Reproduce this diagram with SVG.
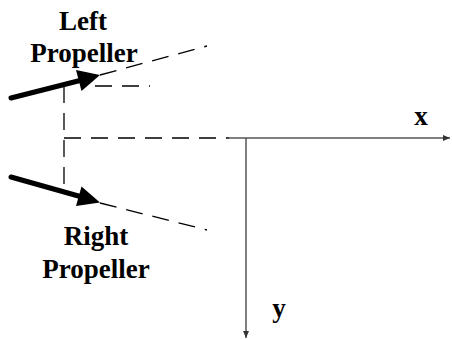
<svg xmlns="http://www.w3.org/2000/svg" width="452" height="340" viewBox="0 0 452 340">
<style>
.lbl{font-family:"Liberation Serif","Times New Roman",serif;font-weight:bold;font-size:27px;fill:#000}
.dash{stroke:#000;stroke-width:1.3;stroke-dasharray:17 10;fill:none}
.axis{stroke:#555;stroke-width:1.5;fill:none}
.thrust{stroke:#000;stroke-width:5;stroke-linecap:round;fill:none}
</style>
<defs>
<marker id="ah" markerWidth="8" markerHeight="8" refX="7" refY="4" orient="auto" markerUnits="userSpaceOnUse">
<path d="M0,1 L7,4 L0,7 Z" fill="#333"/>
</marker>
</defs>
<rect width="452" height="340" fill="#fff"/>
<g id="connectors">
<line class="dash" x1="100" y1="75" x2="207" y2="46"/>
<line class="dash" x1="95" y1="86" x2="150" y2="86"/>
<line class="dash" x1="64" y1="86" x2="64" y2="192"/>
<line class="dash" x1="64" y1="138" x2="229" y2="138"/>
<line class="dash" x1="100" y1="203" x2="207" y2="230"/>
<line class="axis" x1="229" y1="138" x2="450" y2="138" marker-end="url(#ah)"/>
<line class="axis" x1="246" y1="138" x2="246" y2="338" marker-end="url(#ah)"/>
</g>
<g id="left-propeller">
<line class="thrust" x1="11" y1="98" x2="82" y2="80"/>
<path d="M100,75 L76,70 L81.5,91 Z" fill="#000"/>
<text class="lbl" x="83" y="30" text-anchor="middle">Left</text>
<text class="lbl" x="84" y="62" text-anchor="middle">Propeller</text>
</g>
<g id="right-propeller">
<line class="thrust" x1="11" y1="177" x2="82" y2="197"/>
<path d="M100,202.5 L81.5,186.5 L76,206 Z" fill="#000"/>
<text class="lbl" x="96" y="245" text-anchor="middle">Right</text>
<text class="lbl" x="96" y="278" text-anchor="middle">Propeller</text>
</g>
<g id="x-label"><text class="lbl" x="421" y="125" text-anchor="middle">x</text></g>
<g id="y-label"><text class="lbl" x="279" y="317" text-anchor="middle">y</text></g>
</svg>
